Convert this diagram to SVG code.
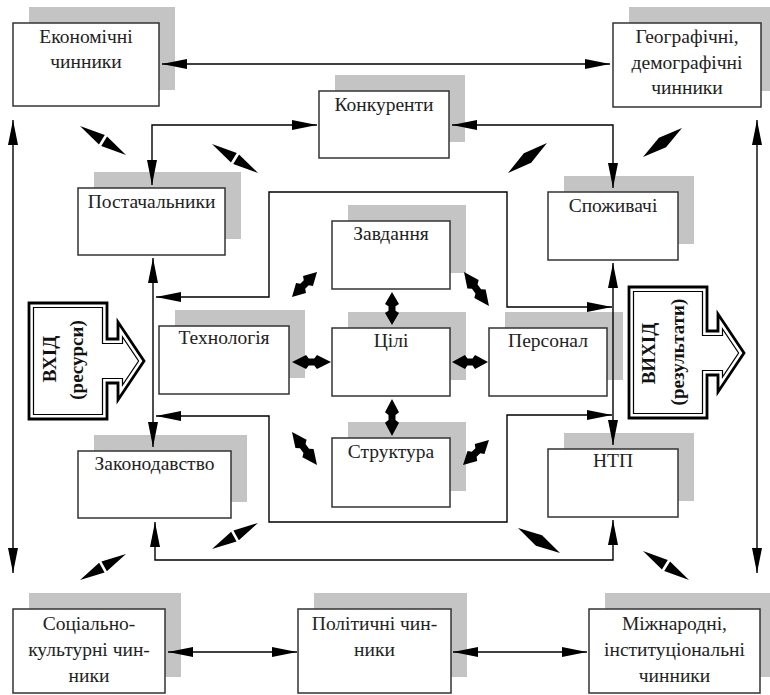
<svg xmlns="http://www.w3.org/2000/svg" xmlns:xlink="http://www.w3.org/1999/xlink" width="770" height="695" viewBox="0 0 770 695">
<style>
.sh{fill:#c4c4c4;stroke:none}
.bx{fill:#fff;stroke:#333;stroke-width:1.5}
.t{font-family:"Liberation Serif","Times New Roman",serif;font-size:19.5px;fill:#222;text-anchor:middle}
.tb{font-family:"Liberation Serif","Times New Roman",serif;font-size:19px;font-weight:bold;fill:#111;text-anchor:middle}
.ln{fill:none;stroke:#000;stroke-width:1.4;marker-start:url(#ah);marker-end:url(#ah)}
.sym{fill:#000;stroke:none}
.bo{fill:#fff;stroke:#000;stroke-width:2.8;stroke-linejoin:miter}
.bi{fill:#fff;stroke:#000;stroke-width:1.2;stroke-linejoin:miter}
</style>
<defs>
<marker id="ah" viewBox="0 0 25 10" refX="25" refY="5" markerWidth="25" markerHeight="10" markerUnits="userSpaceOnUse" orient="auto-start-reverse">
<path d="M0,0 L25,5 L0,10 Z" fill="#000"/>
</marker>
<path id="dg" d="M-50,0 L-2.5,-5.5 L-2.5,5.5 Z M50,0 L2.5,-5.5 L2.5,5.5 Z"/>
<path id="dd" d="M-50,0 L0,-6 L50,0 L0,6 Z"/>
<path id="ds" d="M-50,0 L-14,-7 L-7,-3.5 L7,-3.5 L14,-7 L50,0 L14,7 L7,3.5 L-7,3.5 L-14,7 Z"/>
</defs>
<rect width="770" height="695" fill="#fff"/>

<g id="n-econ"><rect class="sh" x="29" y="7" width="146" height="83"/><rect class="bx" x="13" y="23" width="146" height="83"/><text class="t" x="86" y="43">Економічні</text><text class="t" x="86" y="68">чинники</text></g>
<g id="n-geo"><rect class="sh" x="629" y="7" width="148" height="84"/><rect class="bx" x="613" y="23" width="148" height="84"/><text class="t" x="687" y="43">Географічні,</text><text class="t" x="687" y="68.5">демографічні</text><text class="t" x="687" y="94">чинники</text></g>
<g id="n-konk"><rect class="sh" x="335" y="75" width="130" height="67"/><rect class="bx" x="319" y="91" width="130" height="67"/><text class="t" x="384" y="111">Конкуренти</text></g>
<g id="n-post"><rect class="sh" x="94" y="172" width="147" height="67"/><rect class="bx" x="78" y="188" width="147" height="67"/><text class="t" x="151.5" y="208">Постачальники</text></g>
<g id="n-spoz"><rect class="sh" x="564" y="176" width="130" height="68"/><rect class="bx" x="548" y="192" width="130" height="68"/><text class="t" x="613" y="212">Споживачі</text></g>
<g id="n-zavd"><rect class="sh" x="348" y="205" width="118" height="68"/><rect class="bx" x="332" y="221" width="118" height="68"/><text class="t" x="391" y="240">Завдання</text></g>
<g id="n-tech"><rect class="sh" x="175" y="310" width="130" height="68"/><rect class="bx" x="159" y="326" width="130" height="68"/><text class="t" x="224" y="344">Технологія</text></g>
<g id="n-tsili"><rect class="sh" x="348" y="312" width="118" height="68"/><rect class="bx" x="332" y="328" width="118" height="68"/><text class="t" x="391" y="347">Цілі</text></g>
<g id="n-pers"><rect class="sh" x="505" y="312" width="118" height="68"/><rect class="bx" x="489" y="328" width="118" height="68"/><text class="t" x="548" y="347">Персонал</text></g>
<g id="n-strukt"><rect class="sh" x="348" y="422" width="118" height="69"/><rect class="bx" x="332" y="438" width="118" height="69"/><text class="t" x="391" y="458">Структура</text></g>
<g id="n-zakon"><rect class="sh" x="94" y="435" width="153" height="67"/><rect class="bx" x="78" y="451" width="153" height="67"/><text class="t" x="154.5" y="470">Законодавство</text></g>
<g id="n-ntp"><rect class="sh" x="564" y="433" width="130" height="68"/><rect class="bx" x="548" y="449" width="130" height="68"/><text class="t" x="613" y="467">НТП</text></g>
<g id="n-soc"><rect class="sh" x="29" y="593" width="152" height="84"/><rect class="bx" x="13" y="609" width="152" height="84"/><text class="t" x="89" y="630">Соціально-</text><text class="t" x="89" y="656">культурні чин-</text><text class="t" x="89" y="682">ники</text></g>
<g id="n-polit"><rect class="sh" x="314" y="593" width="153" height="84"/><rect class="bx" x="298" y="609" width="153" height="84"/><text class="t" x="374.5" y="630">Політичні чин-</text><text class="t" x="374.5" y="656">ники</text></g>
<g id="n-mizh"><rect class="sh" x="605" y="593" width="171" height="84"/><rect class="bx" x="589" y="609" width="171" height="84"/><text class="t" x="674.5" y="630">Міжнародні,</text><text class="t" x="674.5" y="656">інституціональні</text><text class="t" x="674.5" y="682">чинники</text></g>

<g id="n-vhid">
<polygon class="bo" points="29,303 107,303 107,339 118,339 118,322 144,361 118,400 118,383 107,383 107,419 29,419"/>
<polygon class="bi" points="33.5,307.5 102.5,307.5 102.5,343.5 122.5,343.5 122.5,336.9 138.6,361 122.5,385.1 122.5,378.5 102.5,378.5 102.5,414.5 33.5,414.5"/>
<text class="tb" transform="translate(56,359) rotate(-90)">ВХІД</text>
<text class="tb" transform="translate(83,360) rotate(-90)">(ресурси)</text>
</g>
<g id="n-vyhid">
<polygon class="bo" points="629,287 707,287 707,331 718,331 718,314 744,353 718,392 718,375 707,375 707,418 629,418"/>
<polygon class="bi" points="633.5,291.5 702.5,291.5 702.5,335.5 722.5,335.5 722.5,328.9 738.6,353 722.5,377.1 722.5,370.5 702.5,370.5 702.5,413.5 633.5,413.5"/>
<text class="tb" transform="translate(655,353.5) rotate(-90)">ВИХІД</text>
<text class="tb" transform="translate(684,352) rotate(-90)">(результати)</text>
</g>

<g id="connectors">
<path class="ln" d="M162,64 L610,64"/>
<path class="ln" d="M13,120 L13,573"/>
<path class="ln" d="M757,120 L757,573"/>
<path class="ln" d="M152,185 L152,125 L317,125"/>
<path class="ln" d="M452,125 L613,125 L613,188"/>
<path class="ln" d="M153,258 L153,447"/>
<path class="ln" d="M156,297 L269,297 L269,192 L507,192 L507,307 L612,307"/>
<path class="ln" d="M156,416 L269,416 L269,522 L507,522 L507,415 L612,415"/>
<path class="ln" d="M613,263 L613,445"/>
<path class="ln" d="M155,522 L155,560 L613,560 L613,520"/>
<path class="ln" d="M168,652 L297,652"/>
<path class="ln" d="M453,652 L587,652"/>
<g class="sym">
<use xlink:href="#dg" transform="translate(103,140.5) rotate(32.2) scale(0.544,1)"/>
<use xlink:href="#dg" transform="translate(235,158.5) rotate(32.2) scale(0.544,1)"/>
<use xlink:href="#dg" transform="translate(235,536) rotate(-29.5) scale(0.528,1)"/>
<use xlink:href="#dg" transform="translate(103,567) rotate(-29.5) scale(0.528,1)"/>
<use xlink:href="#dg" transform="translate(666,565.5) rotate(32.2) scale(0.544,1)"/>
<use xlink:href="#dd" transform="translate(527.5,158) rotate(-37.6) scale(0.492,1)"/>
<use xlink:href="#dd" transform="translate(662.5,142.5) rotate(-36.6) scale(0.486,1)"/>
<use xlink:href="#dd" transform="translate(539,540.5) rotate(30.8) scale(0.489,1)"/>
<use xlink:href="#ds" transform="translate(392,308.5) rotate(90) scale(0.33,1)"/>
<use xlink:href="#ds" transform="translate(392,417.5) rotate(90) scale(0.37,1)"/>
<use xlink:href="#ds" transform="translate(311.5,362) scale(0.39,1)"/>
<use xlink:href="#ds" transform="translate(470,362) scale(0.36,1)"/>
<use xlink:href="#ds" transform="translate(304.5,284.5) rotate(-45) scale(0.354,1)"/>
<use xlink:href="#ds" transform="translate(476.5,289) rotate(53.7) scale(0.422,1)"/>
<use xlink:href="#ds" transform="translate(304.5,448.5) rotate(52.9) scale(0.414,1)"/>
<use xlink:href="#ds" transform="translate(476,452.5) rotate(-43.9) scale(0.36,1)"/>
</g>
</g>
</svg>
